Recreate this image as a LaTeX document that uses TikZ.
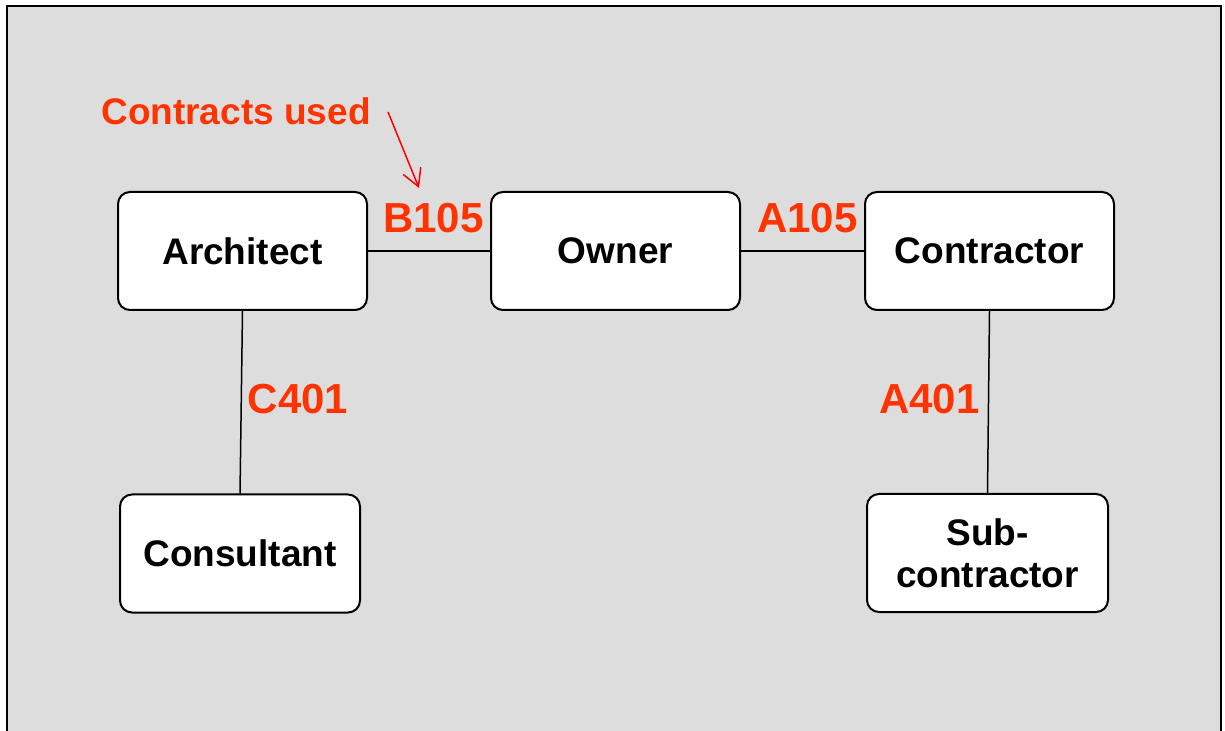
\documentclass[tikz,border=0pt]{standalone}
\usepackage{fontspec}
\setmainfont{Liberation Sans}
\usetikzlibrary{arrows.meta}
\definecolor{bggray}{HTML}{DDDDDD}
\definecolor{codered}{HTML}{FF3300}
\definecolor{arrred}{HTML}{FF0000}
\tikzset{
  party/.style={draw=black, fill=white, line width=1pt, rounded corners=6pt,
    inner sep=0pt, minimum width=124.5pt, minimum height=59pt, align=center,
    font=\fontsize{18.5}{21}\selectfont\bfseries},
  code/.style={text=codered, inner sep=0pt, anchor=base, font=\fontsize{21}{25}\selectfont\bfseries},
  note/.style={text=codered, inner sep=0pt, anchor=base, font=\fontsize{18.5}{21}\selectfont\bfseries},
  link/.style={draw=black, line width=0.75pt},
  pointer/.style={draw=arrred, line width=0.75pt, -{Straight Barb[length=8.5pt,width=9.5pt]}}
}
\begin{document}
\begin{tikzpicture}[x=0.5pt,y=-0.5pt]
\useasboundingbox (0,0) rectangle (1225,731);
\path[draw=black, fill=bggray, line width=1.25pt] (7,6) rectangle (1221,745);
\node[party] (arch) at (242.5,251) {Architect};
\node[party] (owner) at (615.5,251) {Owner};
\node[party] (contr) at (989.5,251) {Contractor};
\node[party, minimum width=120pt] (cons) at (240,553.5) {Consultant};
\node[party, minimum width=120.5pt] (sub) at (987.5,553) {Sub-\\contractor};
\draw[link] (arch) -- (owner);
\draw[link] (owner) -- (contr);
\draw[link] (arch.south) -- (cons.north);
\draw[link] (contr.south) -- (sub.north);
\node[code] (b105) at (433.5,233) {B105};
\node[code] (a105) at (807.5,233) {A105};
\node[code] (c401) at (298,414) {C401};
\node[code] (a401) at (929.5,414) {A401};
\node[note] (used) at (236,125) {Contracts used};
\coordinate (arrS) at (388,112);
\coordinate (arrE) at (419,188);
\draw[pointer] (arrS) -- (arrE);
\end{tikzpicture}
\end{document}
